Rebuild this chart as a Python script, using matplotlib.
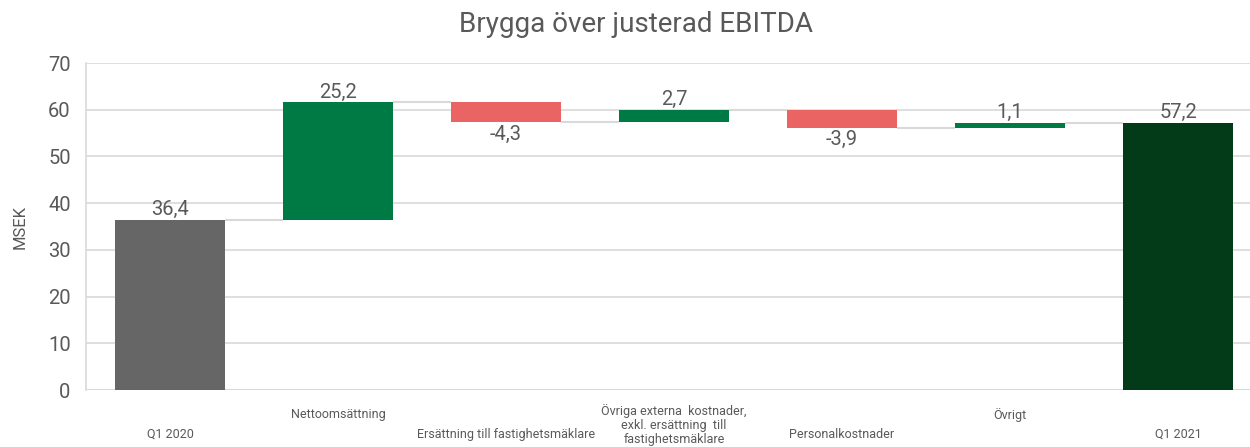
import numpy as np
import matplotlib.pyplot as plt
from matplotlib.transforms import blended_transform_factory

# ----------------- data -----------------
kategorier = [
    "Q1 2020",
    "Nettoomsättning",
    "Ersättning till fastighetsmäklare",
    "Övriga externa  kostnader,\nexkl. ersättning  till\nfastighetsmäklare",
    "Personalkostnader",
    "Övrigt",
    "Q1 2021",
]
forandringar = [36.4, 25.2, -4.3, 2.7, -3.9, 1.1, 57.2]
ar_total = [True, False, False, False, False, False, True]
etiketter = ["36,4", "25,2", "-4,3", "2,7", "-3,9", "1,1", "57,2"]

FARG_START = "#666666"
FARG_UPP = "#007A45"
FARG_NER = "#EB6464"
FARG_SLUT = "#033A17"
TEXT = "#595959"

plt.rcParams["font.family"] = ["Roboto", "DejaVu Sans"]

fig = plt.figure(figsize=(12.5, 4.47), dpi=100)
ax = fig.add_axes([0.0688, 0.1275, 0.9408, 0.7315])

# ----------------- waterfall -----------------
bottoms, heights, farger = [], [], []
niva = 0.0
for i, (v, tot) in enumerate(zip(forandringar, ar_total)):
    if tot:
        bottoms.append(0.0)
        heights.append(v)
        farger.append(FARG_START if i == 0 else FARG_SLUT)
        niva = v
    else:
        if v >= 0:
            bottoms.append(niva)
            farger.append(FARG_UPP)
        else:
            bottoms.append(niva + v)
            farger.append(FARG_NER)
        heights.append(abs(v))
        niva += v

x = np.arange(len(kategorier))
bw = 0.655
ax.bar(x, heights, bottom=bottoms, width=bw, color=farger, zorder=3)

# kopplingslinjer
niva = 0.0
for i, (v, tot) in enumerate(zip(forandringar, ar_total)):
    niva = v if tot else niva + v
    if i < len(x) - 1:
        ax.plot([x[i] + bw / 2, x[i + 1] - bw / 2], [niva, niva],
                color="#D9D9D9", lw=1.5, zorder=2, solid_capstyle="butt")

# dataetiketter
for i, (v, lab) in enumerate(zip(forandringar, etiketter)):
    if v >= 0:
        ax.annotate(lab, (x[i], bottoms[i] + heights[i]), xytext=(0, 0.5),
                    textcoords="offset points", ha="center", va="bottom",
                    fontsize=14.5, color=TEXT)
    else:
        ax.annotate(lab, (x[i], bottoms[i]), xytext=(0, -1.5),
                    textcoords="offset points", ha="center", va="top",
                    fontsize=14.5, color=TEXT)

# ----------------- axlar -----------------
ax.set_xlim(-0.5, len(x) - 0.5)
ax.set_ylim(0, 70)
ax.set_yticks(range(0, 71, 10))
ax.tick_params(axis="y", length=0, labelsize=14.5, labelcolor=TEXT, pad=11)
ax.set_xticks([])
ax.grid(axis="y", color="#D9D9D9", lw=1.2, zorder=0)
ax.set_axisbelow(True)
for s in ["top", "right", "bottom"]:
    ax.spines[s].set_visible(False)
ax.spines["left"].set_color("#D9D9D9")
ax.spines["left"].set_linewidth(1.2)
ax.axhline(0, color="#D9D9D9", lw=1.5, zorder=1)

ax.set_ylabel("MSEK", fontsize=12, color=TEXT, labelpad=15)

# kategorietiketter, förskjutna
trans = blended_transform_factory(ax.transData, ax.transAxes)
for i, k in enumerate(kategorier):
    dy = -13 if i % 2 == 1 else -27
    if "\n" in k:
        dy = -10
    ax.annotate(k, (x[i], 0), xycoords=trans, xytext=(0, dy),
                textcoords="offset points", ha="center", va="top",
                fontsize=9, color=TEXT, linespacing=1.1)

fig.text(0.509, 0.945, "Brygga över justerad EBITDA", ha="center", va="center",
         fontsize=20, color=TEXT)

fig.savefig("out.png", dpi=100)
